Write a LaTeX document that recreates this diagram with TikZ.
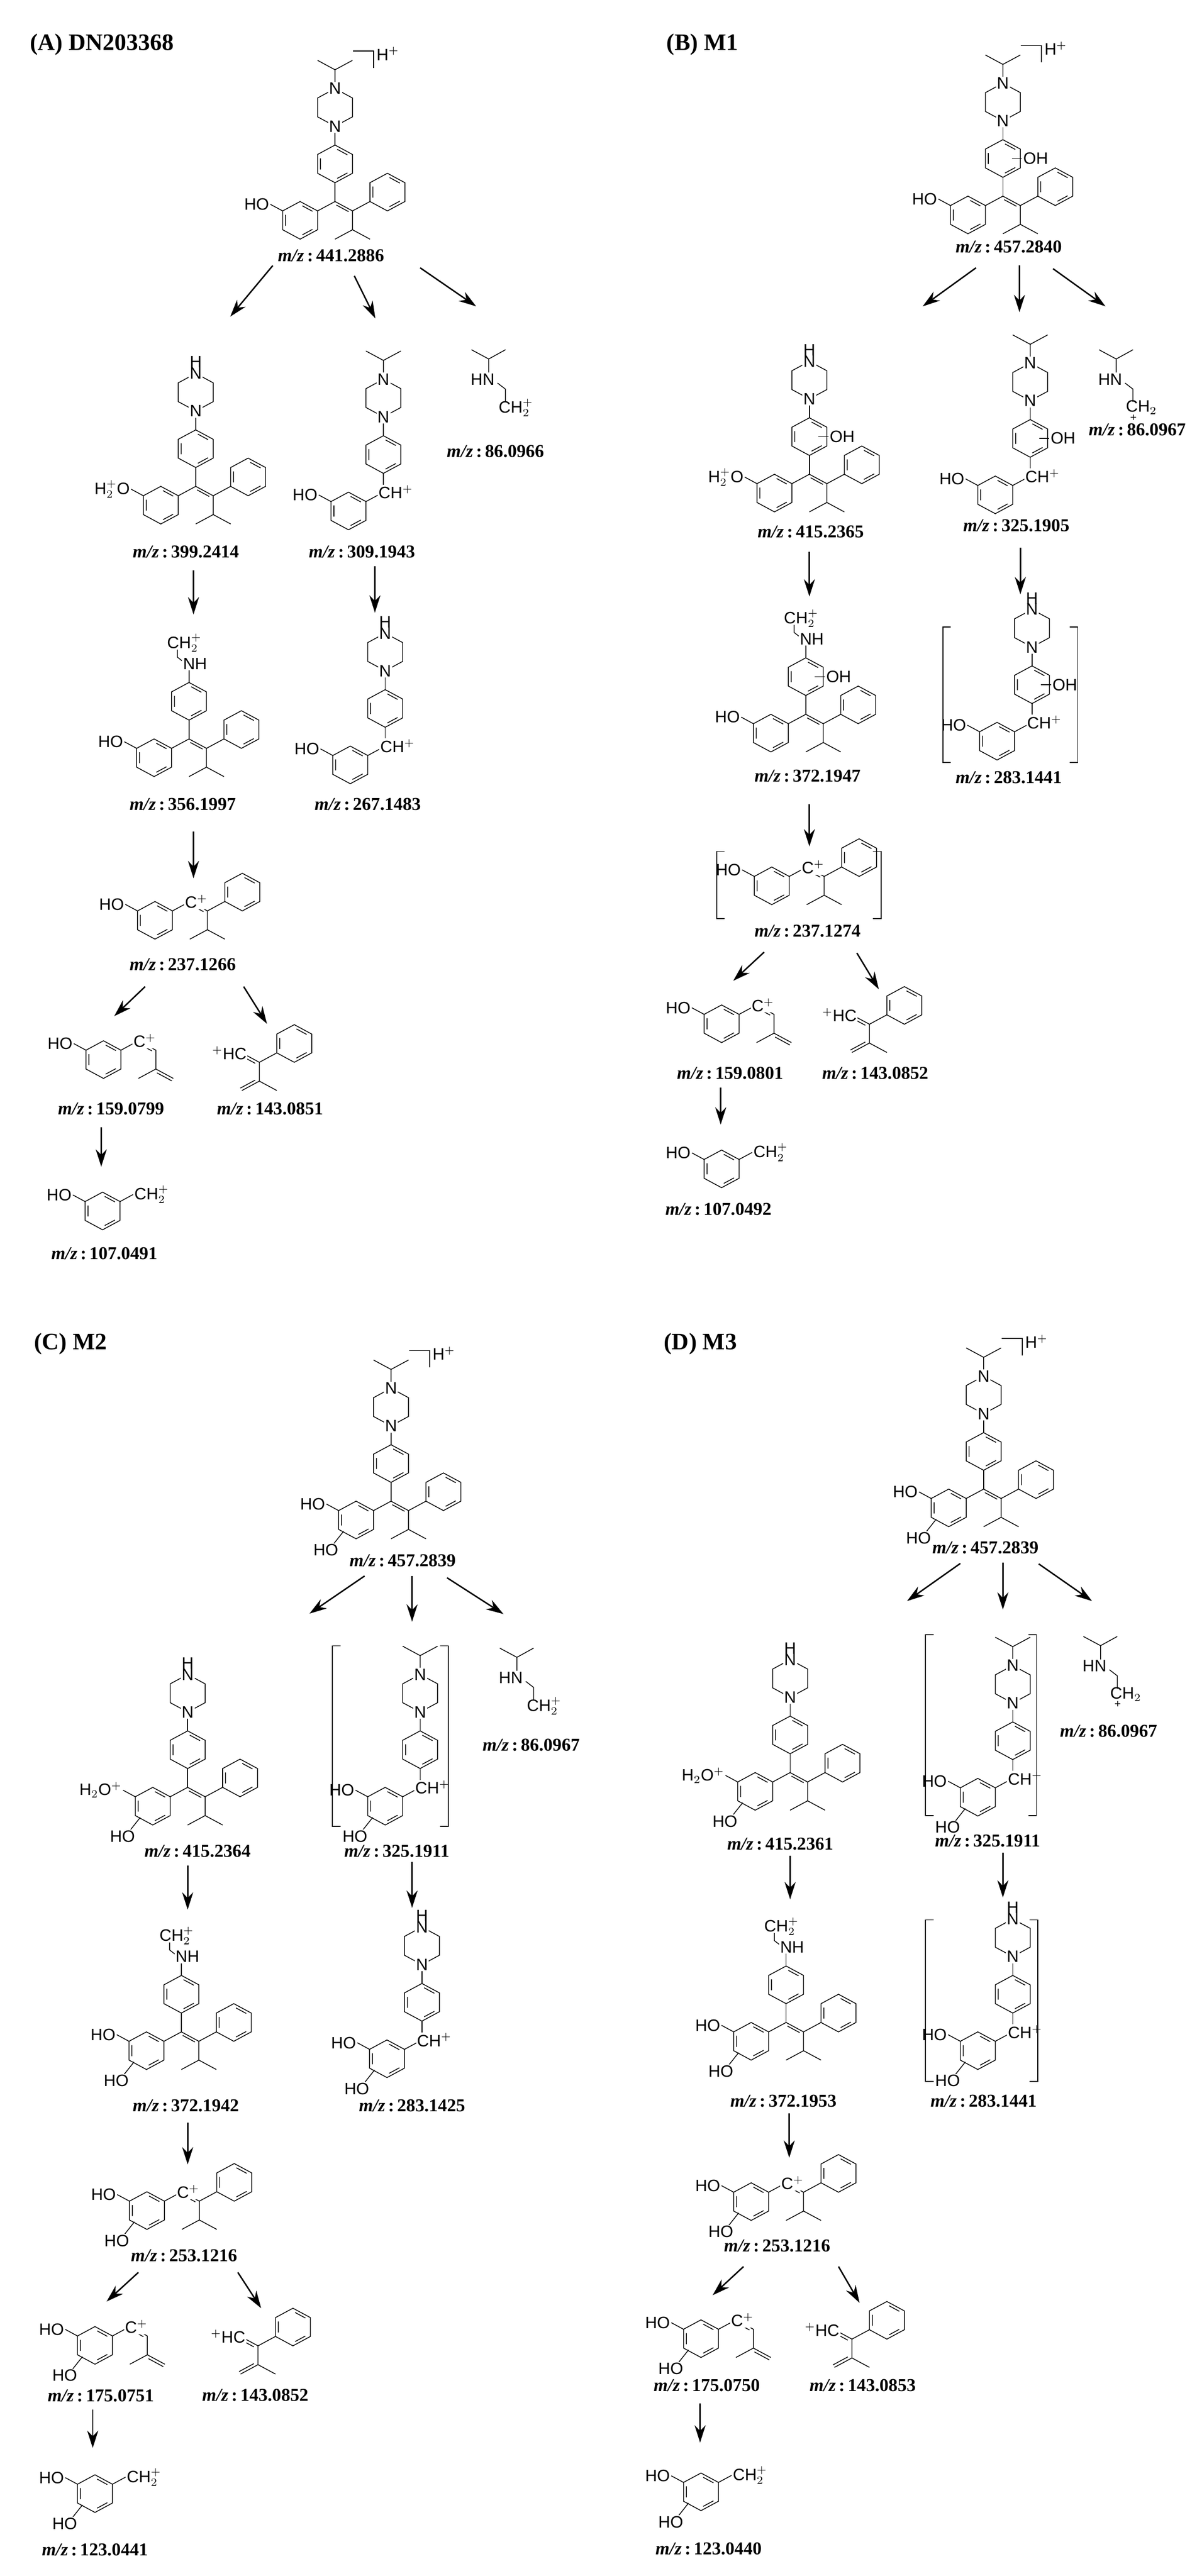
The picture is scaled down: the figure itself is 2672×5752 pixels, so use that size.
\documentclass[tikz,border=0pt]{standalone}
\usepackage{fontspec}
\setmainfont{Liberation Serif}
\newfontfamily\chemf{Liberation Sans}
\usetikzlibrary{arrows.meta}
\tikzset{bond/.style={line width=0.5pt},
 lbl/.style={font=\chemf\fontsize{10.5}{12}\selectfont, fill=white, inner sep=0.6pt},
 mz/.style={font=\fontsize{11.5}{13}\selectfont\bfseries},
 ttl/.style={font=\fontsize{15}{17}\selectfont\bfseries, anchor=west},
 rxn/.style={line width=0.9pt,-{Stealth[length=11pt,width=7pt]}},
 brk/.style={line width=0.6pt}}
\newcommand\benz[1]{\begin{scope}[shift={#1}]\draw[bond] (30:1)--(90:1)--(150:1)--(210:1)--(270:1)--(330:1)--cycle;
 \draw[bond] (38:0.78)--(82:0.78) (158:0.78)--(202:0.78) (278:0.78)--(322:0.78);\end{scope}}
\newcommand\pip[1]{\begin{scope}[shift={#1}]\draw[bond] (30:1)--(90:1)--(150:1)--(210:1)--(270:1)--(330:1)--cycle;
 \node[lbl] at (90:1){N}; \node[lbl] at (270:1){N};\end{scope}}
\newcommand\molat[2]{\begin{scope}[shift={(#1,-#2)},x=0.45cm,y=0.42cm]}
\newcommand\molend{\end{scope}}
\newcommand\lring[2]{\benz{(0,0)}\draw[bond] (150:1) -- ++(150:0.7) node[lbl,anchor=east]{#1};
 \ifnum#2=1 \draw[bond] (-0.62,-0.6) -- (-1.1,-1.25); \node[lbl] at (-1.5,-1.6){HO};\fi}
\newcommand\cbond{\draw[bond] (30:1) -- (1.732,1);}
\newcommand\alkene{\draw[bond] (1.732,1) -- (2.598,0.5) -- (3.464,1); \draw[bond] (1.797,0.812) -- (2.403,0.462);
 \draw[bond] (2.598,0.5) -- (2.598,-0.5) -- (1.732,-1); \draw[bond] (2.598,-0.5) -- (3.464,-1); \benz{(4.330,1.5)}}
\newcommand\para[1]{\draw[bond] (1.732,1) -- (1.732,2); \benz{(1.732,3)}\ifnum#1=1 \draw[bond] (2.18,3) -- (2.68,3) node[lbl,anchor=west]{OH};\fi}
\newcommand\pipiso{\draw[bond] (1.732,4) -- (1.732,5); \draw[bond] (1.732,7) -- (1.732,8) -- (0.866,8.5); \draw[bond] (1.732,8) -- (2.598,8.5); \pip{(1.732,6)}}
\newcommand\pipNH{\draw[bond] (1.732,4) -- (1.732,5); \pip{(1.732,6)}\node[lbl,fill=none] at (1.732,7.6){H};}
\newcommand\nhch{\draw[bond] (1.732,4) -- (1.732,5); \draw[bond] (1.45,5.1) -- (1.15,5.35) -- (1.15,5.75); \node[lbl] at (2.03,5){NH}; \node[lbl,fill=none] at (1.5,6.1){CH$_2^+$};}
\newcommand\Hplus{\draw[brk] (2.63,9.0) -- (3.65,9.0) -- (3.65,8.1); \node[lbl,fill=none] at (4.35,8.85){H$^+$};}
\newcommand\chplus{\node[lbl,anchor=west] at (1.43,1){CH$^+$};}
\newcommand\cplus{\node[lbl,anchor=west] at (1.43,1){C$^+$};}
\newcommand\ene{\draw[bond] (1.732,1) -- (2.598,0.5) -- (2.598,-0.5) -- (1.732,-1); \draw[bond] (1.797,0.812) -- (2.403,0.462);
 \draw[bond] (2.598,-0.5) -- (3.464,-1); \draw[bond] (2.653,-0.705) -- (3.389,-1.13);}
\newcommand\chtwo{\draw[bond] (30:1) -- ++(30:0.75) node[lbl,anchor=west]{CH$_2^+$};}
\newcommand\fragB{\benz{(0,0)}\draw[bond] (210:1) -- (-1.732,-1) -- (-1.732,-2) -- (-0.866,-2.5); \draw[bond] (-1.732,-1) -- (-2.598,-0.5);
 \draw[bond] (-1.937,-1.055) -- (-2.413,-0.78); \draw[bond] (-1.732,-2) -- (-2.598,-2.5); \draw[bond] (-1.937,-1.945) -- (-2.673,-2.37);
 \node[lbl,anchor=east] at (-2.3,-0.5){$^+$HC};}
\newcommand\fragA[1]{\draw[bond] (0,0.3) -- (0,1.08) -- (-0.85,1.57); \draw[bond] (0,1.08) -- (0.83,1.57); \draw[bond] (0.44,-0.2) -- (0.83,-0.52) -- (0.83,-1.2);
 \node[lbl] at (-0.3,0){HN};\ifnum#1=0 \node[lbl,fill=none] at (1.35,-1.5){CH$_2^+$};\else \node[lbl,fill=none] at (1.25,-1.5){CH$_2$}; \node[lbl,fill=none,font=\chemf\fontsize{7}{8}\selectfont] at (0.85,-2.05){+};\fi}
\newcommand\mz[4]{\node[mz] (#1) at (#2,-#3) {\textit{m/z}\,:\,#4};}
\newcommand\arr[5]{\coordinate (#1s) at (#2,-#3); \coordinate (#1e) at (#4,-#5); \draw[rxn] (#1s) -- (#1e);}
\newcommand\bigbr[4]{\draw[brk] (#1+18,-#2) -- (#1,-#2) -- (#1,-#4) -- (#1+18,-#4); \draw[brk] (#3-18,-#2) -- (#3,-#2) -- (#3,-#4) -- (#3-18,-#4);}
\begin{document}
\begin{tikzpicture}[x=0.01cm,y=0.01cm]
\useasboundingbox[fill=white] (0,0) rectangle (2672,-5752);
% titles
\node[ttl] (tA) at (55,-100) {(A) DN203368};
\node[ttl] (tB) at (1476,-100) {(B) M1};
\node[ttl] (tC) at (64,-3001) {(C) M2};
\node[ttl] (tD) at (1470,-3001) {(D) M3};
% ---------- Panel A
\molat{670}{492}\lring{HO}{0}\cbond\alkene\para{0}\pipiso\Hplus\molend \mz{a1}{739}{571}{441.2886}
\molat{359}{1128}\lring{H$_2^+$O}{0}\cbond\alkene\para{0}\pipNH\molend \mz{a2}{415}{1232}{399.2414}
\molat{778}{1141}\lring{HO}{0}\cbond\para{0}\pipiso\chplus\molend \mz{a3}{808}{1232}{309.1943}
\molat{1091}{847}\fragA{0}\molend \mz{a4}{1106}{1008}{86.0966}
\molat{344}{1692}\lring{HO}{0}\cbond\alkene\para{0}\nhch\molend \mz{a5}{408}{1796}{356.1997}
\molat{782}{1708}\lring{HO}{0}\cbond\para{0}\pipNH\chplus\molend \mz{a6}{821}{1796}{267.1483}
\molat{346}{2055}\lring{HO}{0}\cbond\alkene\cplus\molend \mz{a7}{408}{2154}{237.1266}
\molat{231}{2366}\lring{HO}{0}\cbond\ene\cplus\molend \mz{a8}{248}{2476}{159.0799}
\molat{657}{2330}\fragB\molend \mz{a9}{603}{2476}{143.0851}
\molat{229}{2704}\lring{HO}{0}\chtwo\molend \mz{a10}{233}{2799}{107.0491}
\arr{aa}{609}{593}{514}{707} \arr{ab}{791}{616}{838}{711} \arr{ac}{938}{598}{1063}{684}
\arr{ad}{432}{1273}{432}{1372} \arr{ae}{837}{1264}{837}{1368} \arr{af}{432}{1857}{432}{1961}
\arr{ag}{324}{2203}{255}{2269} \arr{ah}{544}{2203}{596}{2286} \arr{ai}{226}{2517}{226}{2605}
% ---------- Panel B
\molat{2161}{480}\lring{HO}{0}\cbond\alkene\para{1}\pipiso\Hplus\molend \mz{b1}{2252}{551}{457.2840}
\molat{1729}{1101}\lring{H$_2^+$O}{0}\cbond\alkene\para{1}\pipNH\molend \mz{b2}{1810}{1187}{415.2365}
\molat{2222}{1105}\lring{HO}{0}\cbond\para{1}\pipiso\chplus\molend \mz{b3}{2269}{1173}{325.1905}
\molat{2492}{847}\fragA{1}\molend \mz{b4}{2539}{960}{86.0967}
\molat{1721}{1637}\lring{HO}{0}\cbond\alkene\para{1}\nhch\molend \mz{b5}{1803}{1733}{372.1947}
\molat{2226}{1655}\lring{HO}{0}\cbond\para{1}\pipNH\chplus\molend \mz{b6}{2252}{1736}{283.1441}
\bigbr{2105}{1400}{2406}{1703}
\molat{1723}{1978}\lring{HO}{0}\cbond\alkene\cplus\molend \mz{b7}{1803}{2079}{237.1274}
\bigbr{1600}{1901}{1967}{2051}
\molat{1611}{2286}\lring{HO}{0}\cbond\ene\cplus\molend \mz{b8}{1630}{2396}{159.0801}
\molat{2019}{2245}\fragB\molend \mz{b9}{1954}{2396}{143.0852}
\molat{1611}{2610}\lring{HO}{0}\chtwo\molend \mz{b10}{1604}{2700}{107.0492}
\arr{ba}{2179}{598}{2060}{684} \arr{bb}{2276}{593}{2276}{697} \arr{bc}{2351}{600}{2468}{684}
\arr{bd}{1807}{1232}{1807}{1332} \arr{be}{2278}{1223}{2278}{1327} \arr{bf}{1807}{1796}{1807}{1890}
\arr{bg}{1706}{2126}{1637}{2190} \arr{bh}{1913}{2128}{1962}{2209} \arr{bi}{1609}{2429}{1609}{2511}
% ---------- Panel C
\molat{795}{3394}\lring{HO}{1}\cbond\alkene\para{0}\pipiso\Hplus\molend \mz{c1}{899}{3485}{457.2839}
\molat{341}{4033}\lring{H$_2$O$^+$}{1}\cbond\alkene\para{0}\pipNH\molend \mz{c2}{441}{4133}{415.2364}
\molat{860}{4033}\lring{HO}{1}\cbond\para{0}\pipiso\chplus\molend \mz{c3}{886}{4133}{325.1911}
\bigbr{742}{3675}{1001}{4078}
\molat{1154}{3746}\fragA{0}\molend \mz{c4}{1186}{3897}{86.0967}
\molat{327}{4579}\lring{HO}{1}\cbond\alkene\para{0}\nhch\molend \mz{c5}{415}{4702}{372.1942}
\molat{864}{4597}\lring{HO}{1}\cbond\para{0}\pipNH\chplus\molend \mz{c6}{920}{4702}{283.1425}
\molat{328}{4936}\lring{HO}{1}\cbond\alkene\cplus\molend \mz{c7}{411}{5037}{253.1216}
\molat{212}{5237}\lring{HO}{1}\cbond\ene\cplus\molend \mz{c8}{225}{5349}{175.0751}
\molat{654}{5196}\fragB\molend \mz{c9}{570}{5348}{143.0852}
\molat{212}{5568}\lring{HO}{1}\chtwo\molend \mz{c10}{212}{5693}{123.0441}
\arr{ca}{814}{3519}{691}{3603} \arr{cb}{920}{3519}{920}{3621} \arr{cc}{998}{3523}{1124}{3604}
\arr{cd}{419}{4166}{419}{4264} \arr{ce}{920}{4157}{920}{4260} \arr{cf}{419}{4740}{419}{4833}
\arr{cg}{309}{5074}{238}{5139} \arr{ch}{531}{5074}{583}{5154} \arr{ci}{207}{5380}{207}{5466}
% ---------- Panel D
\molat{2118}{3367}\lring{HO}{1}\cbond\alkene\para{0}\pipiso\Hplus\molend \mz{d1}{2200}{3456}{457.2839}
\molat{1686}{4000}\lring{H$_2$O$^+$}{1}\cbond\alkene\para{0}\pipNH\molend \mz{d2}{1742}{4117}{415.2361}
\molat{2183}{4013}\lring{HO}{1}\cbond\para{0}\pipiso\chplus\molend \mz{d3}{2205}{4110}{325.1911}
\bigbr{2066}{3650}{2314}{4054}
\molat{2457}{3720}\fragA{1}\molend \mz{d4}{2475}{3865}{86.0967}
\molat{1677}{4558}\lring{HO}{1}\cbond\alkene\para{0}\nhch\molend \mz{d5}{1749}{4691}{372.1953}
\molat{2183}{4579}\lring{HO}{1}\cbond\para{0}\pipNH\chplus\molend \mz{d6}{2196}{4691}{283.1441}
\bigbr{2066}{4287}{2317}{4648}
\molat{1677}{4916}\lring{HO}{1}\cbond\alkene\cplus\molend \mz{d7}{1735}{5015}{253.1216}
\molat{1565}{5222}\lring{HO}{1}\cbond\ene\cplus\molend \mz{d8}{1578}{5326}{175.0750}
\molat{1980}{5181}\fragB\molend \mz{d9}{1926}{5326}{143.0853}
\molat{1565}{5564}\lring{HO}{1}\chtwo\molend \mz{d10}{1582}{5691}{123.0440}
\arr{da}{2144}{3491}{2025}{3575} \arr{db}{2239}{3489}{2239}{3594} \arr{dc}{2319}{3492}{2438}{3575}
\arr{dd}{1764}{4144}{1764}{4241} \arr{de}{2239}{4137}{2239}{4237} \arr{df}{1762}{4719}{1762}{4818}
\arr{dg}{1660}{5061}{1591}{5125} \arr{dh}{1872}{5061}{1919}{5142} \arr{di}{1563}{5367}{1563}{5454}
\end{tikzpicture}
\end{document}
